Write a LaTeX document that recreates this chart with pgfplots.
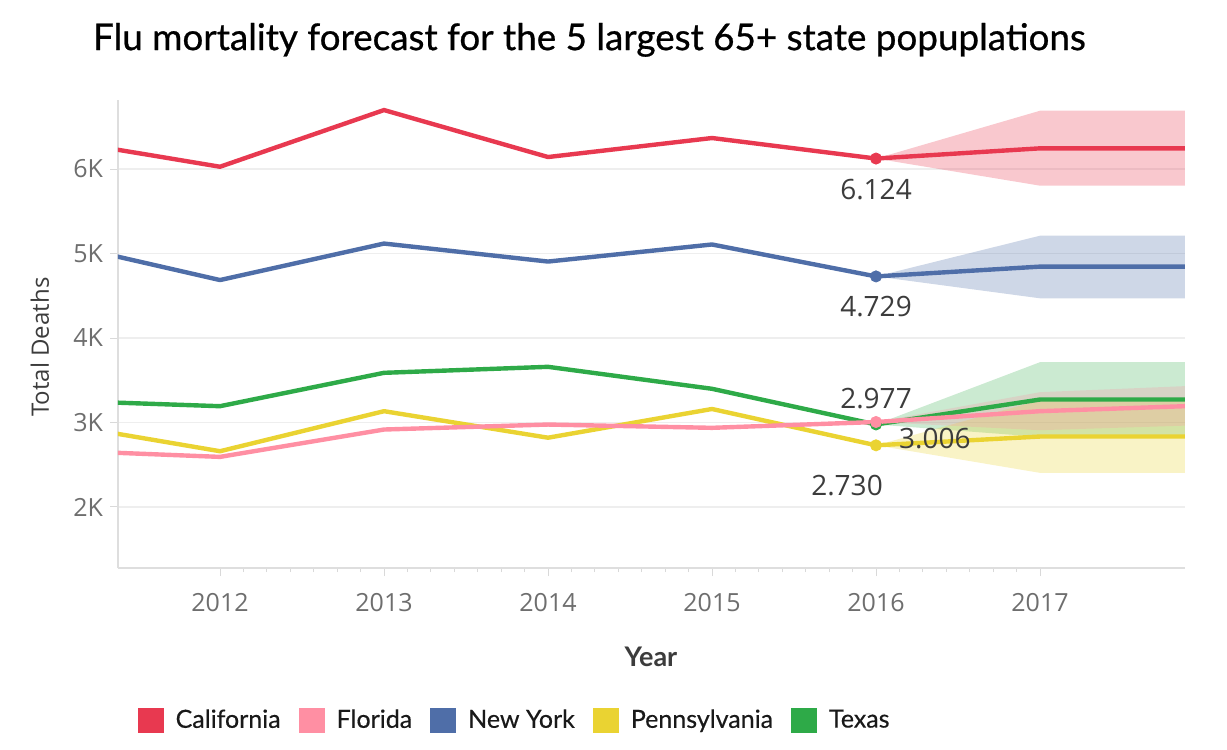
\documentclass[border=0pt]{standalone}
\usepackage{fontspec}
\setmainfont{Lato}
\newfontfamily\tickfont{Open Sans}
\newfontfamily\titlefont{Lato}[FakeBold=0.7]
\newfontfamily\legfont{Lato}[FakeBold=0.4]
\usepackage{pgfplots}
\pgfplotsset{compat=1.18}
\definecolor{cCA}{RGB}{232,57,80}
\definecolor{cFL}{RGB}{255,143,163}
\definecolor{cNY}{RGB}{79,110,168}
\definecolor{cPA}{RGB}{234,211,50}
\definecolor{cTX}{RGB}{46,170,72}
\definecolor{gridc}{RGB}{238,238,238}
\definecolor{tickc}{RGB}{110,110,110}
\definecolor{labc}{RGB}{60,60,60}
\pgfplotsset{sqlegend/.style={legend image code/.code={\fill[##1, draw=none] (0pt,-6.25pt) rectangle (13pt,6.25pt);}}}
\begin{document}
\begin{tikzpicture}
\path[use as bounding box] (-59pt,-91pt) rectangle (554.5pt,284pt);
\begin{axis}[
  at={(0pt,0pt)}, anchor=south west,
  scale only axis, width=533.5pt, height=234pt,
  xmin=2011.378, xmax=2017.884, ymin=1278, ymax=6817,
  axis lines=left, axis line style={-, draw=black!13, line width=0.6pt},
  xtick={2012,2013,2014,2015,2016,2017},
  xticklabels={2012,2013,2014,2015,2016,2017},
  ytick={2000,3000,4000,5000,6000},
  yticklabels={2K,3K,4K,5K,6K},
  minor x tick num=6,
  tick align=outside, major tick length=4pt, minor tick length=2pt,
  tick style={draw=black!15, line width=0.5pt},
  ymajorgrids, grid style={draw=gridc, line width=0.6pt},
  tick label style={font=\tickfont\fontsize{12.5}{14}\selectfont, text=tickc},
  xticklabel style={yshift=-5pt},
  xlabel={\bfseries Year},
  xlabel style={at={(axis description cs:0.4995,-0.19)}, anchor=center, font=\fontsize{13.5}{15}\selectfont, text=labc},
  ylabel={Total Deaths},
  ylabel style={at={(axis description cs:-0.0731,0.472)}, anchor=center, rotate=0, font=\tickfont\fontsize{12}{14}\selectfont, text=labc},
  title={Flu mortality forecast for the 5 largest 65+ state popuplations},
  title style={at={(axis description cs:-0.030,1.081)}, anchor=base west, font=\titlefont\fontsize{18.4}{21}\selectfont, text=black},
  legend columns=5,
  legend style={at={(axis description cs:0.0124,-0.325)}, anchor=west, draw=none, fill=none,
    font=\legfont\fontsize{12.5}{14}\selectfont, text=black!90,
    /tikz/every odd column/.append style={column sep=4pt},
    /tikz/every even column/.append style={column sep=7pt}},
  legend cell align=left,
  clip=true,
]
% forecast bands
\addplot[forget plot, fill=cCA, fill opacity=0.28, draw=none] coordinates {(2016,6124) (2017,6690) (2018,6690) (2018,5803) (2017,5803)} -- cycle;
\addplot[forget plot, fill=cNY, fill opacity=0.28, draw=none] coordinates {(2016,4729) (2017,5211) (2018,5211) (2018,4470) (2017,4470)} -- cycle;
\addplot[forget plot, fill=cTX, fill opacity=0.25, draw=none] coordinates {(2016,2977) (2017,3714) (2018,3714) (2018,2830) (2017,2830)} -- cycle;
\addplot[forget plot, fill=cPA, fill opacity=0.28, draw=none] coordinates {(2016,2730) (2017,3264) (2018,3264) (2018,2404) (2017,2404)} -- cycle;
\addplot[forget plot, fill=cFL, fill opacity=0.25, draw=none] coordinates {(2016,3006) (2017,3359) (2018,3440) (2018,2970) (2017,2909)} -- cycle;
% lines
\addplot[forget plot, cCA, line width=2.2pt, line join=round] coordinates {(2011,6350) (2012,6027) (2013,6698) (2014,6142) (2015,6367) (2016,6124) (2017,6245) (2018,6245)};
\addplot[forget plot, cNY, line width=2.2pt, line join=round] coordinates {(2011,5130) (2012,4686) (2013,5118) (2014,4905) (2015,5107) (2016,4729) (2017,4845) (2018,4845)};
\addplot[forget plot, cTX, line width=2.2pt, line join=round] coordinates {(2011,3260) (2012,3193) (2013,3588) (2014,3659) (2015,3399) (2016,2977) (2017,3272) (2018,3272)};
\addplot[forget plot, cPA, line width=2.2pt, line join=round] coordinates {(2011,2990) (2012,2660) (2013,3134) (2014,2820) (2015,3160) (2016,2730) (2017,2834) (2018,2834)};
\addplot[forget plot, cFL, line width=2.2pt, line join=round] coordinates {(2011,2670) (2012,2593) (2013,2917) (2014,2976) (2015,2937) (2016,3006) (2017,3134) (2018,3201)};
% markers at last actual
\addplot[forget plot, only marks, mark=*, mark size=2.8pt, cCA] coordinates {(2016,6124)};
\addplot[forget plot, only marks, mark=*, mark size=2.8pt, cNY] coordinates {(2016,4729)};
\addplot[forget plot, only marks, mark=*, mark size=2.8pt, cTX] coordinates {(2016,2977)};
\addplot[forget plot, only marks, mark=*, mark size=2.8pt, cPA] coordinates {(2016,2730)};
\addplot[forget plot, only marks, mark=*, mark size=2.8pt, cFL] coordinates {(2016,3006)};
% data labels
\node[font=\tickfont\fontsize{14}{16}\selectfont, text=labc, yshift=-15.5pt] at (axis cs:2016,6124) {6.124};
\node[font=\tickfont\fontsize{14}{16}\selectfont, text=labc, yshift=-15pt] at (axis cs:2016,4729) {4.729};
\node[font=\tickfont\fontsize{14}{16}\selectfont, text=labc, yshift=13pt] at (axis cs:2016,2977) {2.977};
\node[font=\tickfont\fontsize{14}{16}\selectfont, text=labc, anchor=west, xshift=8pt, yshift=-8.5pt] at (axis cs:2016,3006) {3.006};
\node[font=\tickfont\fontsize{14}{16}\selectfont, text=labc, xshift=-14.5pt, yshift=-20pt] at (axis cs:2016,2730) {2.730};
% legend
\addlegendimage{sqlegend, fill=cCA}\addlegendentry{California}
\addlegendimage{sqlegend, fill=cFL}\addlegendentry{Florida}
\addlegendimage{sqlegend, fill=cNY}\addlegendentry{New York}
\addlegendimage{sqlegend, fill=cPA}\addlegendentry{Pennsylvania}
\addlegendimage{sqlegend, fill=cTX}\addlegendentry{Texas}
\end{axis}
\end{tikzpicture}
\end{document}
